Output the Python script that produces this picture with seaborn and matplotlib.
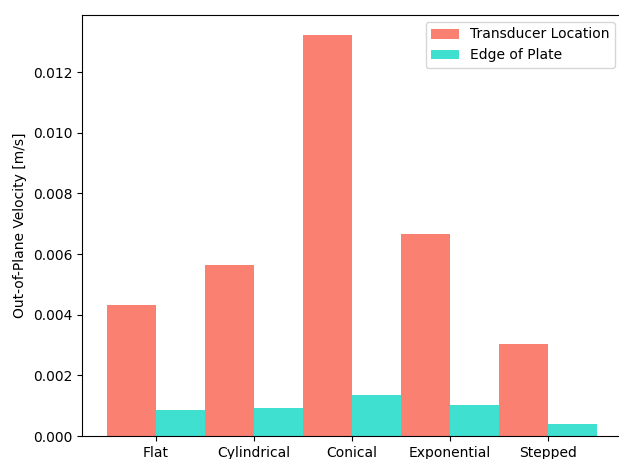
import pandas as pd
import matplotlib
matplotlib.use('Agg')
import matplotlib.pyplot as plt
import seaborn as sns

# values
shapes = ['Flat', 'Cylindrical', 'Conical', 'Exponential', 'Stepped']
transducer = [0.00431, 0.00565, 0.01322, 0.00667, 0.00302]
edge = [0.00085, 0.00093, 0.00134, 0.00101, 0.00040]
series = ['Transducer Location', 'Edge of Plate']
colors = ['salmon', 'turquoise']

df = pd.DataFrame({
    'shape': shapes * 2,
    'velocity': transducer + edge,
    'location': [series[0]] * len(shapes) + [series[1]] * len(shapes),
})

fig = plt.figure(figsize=(6.19, 4.59), dpi=100)
# right spine falls just outside the picture, as in the cropped reference
ax = fig.add_axes([82 / 619, 23 / 459, 540 / 619, 421 / 459])

sns.barplot(data=df, x='shape', y='velocity', hue='location', hue_order=series,
            palette=colors, width=1.0, saturation=1, linewidth=0, ax=ax)

ax.set_xlim(-0.75, 4.75)
ax.set_ylim(0, 0.01388)
ax.set_xlabel('')
ax.set_ylabel('Out-of-Plane Velocity [m/s]')
ax.set_yticks([0, 0.002, 0.004, 0.006, 0.008, 0.010, 0.012])
ax.set_yticklabels(['0.000', '0.002', '0.004', '0.006', '0.008', '0.010', '0.012'])

handles, labels = ax.get_legend_handles_labels()
ax.legend(handles, labels, loc='upper right')

fig.savefig('out.png', dpi=100)
